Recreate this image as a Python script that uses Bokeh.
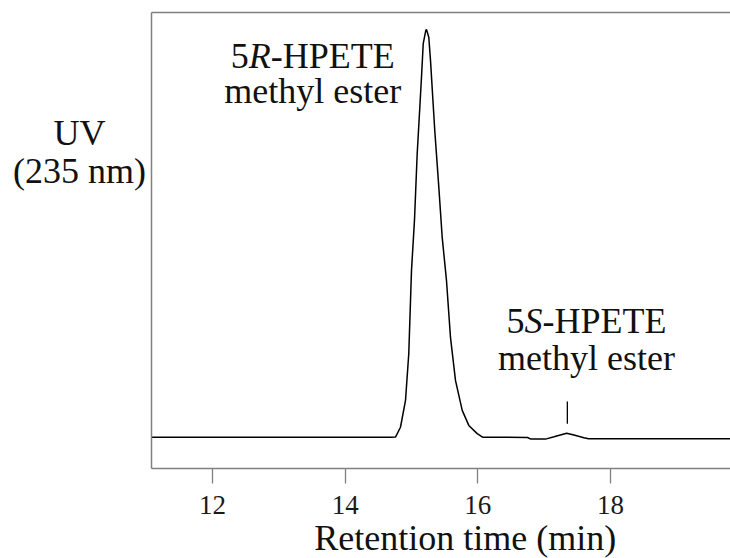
from bokeh.plotting import figure
from bokeh.models import Range1d, FixedTicker, Label, LinearAxis
from bokeh.embed import file_html
from bokeh.resources import INLINE

# ---- data ----
time_min = [11.08, 12.0, 13.0, 14.0, 14.70, 14.759, 14.834, 14.910, 14.959, 15.000,
            15.045, 15.086, 15.125, 15.151, 15.177, 15.216, 15.226, 15.261, 15.287,
            15.317, 15.351, 15.412, 15.463, 15.528, 15.588, 15.664, 15.765, 15.864,
            15.991, 16.071, 16.40, 16.75, 16.80, 17.02, 17.15, 17.34, 17.45, 17.60,
            17.67, 18.5, 19.81]
signal = [6.92, 6.92, 6.92, 6.92, 6.92, 6.95, 9.1, 15.0, 25.2, 43.4,
          54.4, 69.0, 79.0, 85.8, 93.1, 96.0, 96.2, 94.5, 89.4,
          82.2, 74.1, 61.7, 50.7, 41.2, 28.8, 19.3, 12.8, 9.5,
          7.7, 6.92, 6.92, 6.85, 6.5, 6.5, 7.0, 7.8, 7.4, 6.8,
          6.57, 6.57, 6.57]

tick_values = [12, 14, 16, 18]
x_limits = [11.08, 19.81]      # plotted time window (frame)
y_limits = [0, 100]            # frame bottom / top in signal units

minor_peak_time = 17.35
minor_marker_lo = 9.86
minor_marker_hi = 14.74

x_label = "Retention time (min)"
y_label_lines = ["UV", "(235 nm)"]
major_label = [("5", "normal"), ("R", "italic"), ("-HPETE", "normal")]
minor_label = [("5", "normal"), ("S", "italic"), ("-HPETE", "normal")]
second_line = "methyl ester"

SERIF = "Liberation Serif"
FRAME = "#808080"
W, H = 730, 558
FRAME_LEFT_PX = 151
FRAME_TOP_PX = 11.7
FRAME_BOTTOM_PX = 468.3
PX_PER_MIN = (W - FRAME_LEFT_PX) / (x_limits[1] - x_limits[0])
PX_PER_UNIT = (FRAME_BOTTOM_PX - FRAME_TOP_PX) / (y_limits[1] - y_limits[0])

# the whole canvas is the drawing area; the boxed frame sits inside it
x_view = (x_limits[0] - FRAME_LEFT_PX / PX_PER_MIN, x_limits[1])
y_view = (y_limits[0] - (H - FRAME_BOTTOM_PX) / PX_PER_UNIT,
          y_limits[1] + FRAME_TOP_PX / PX_PER_UNIT)

p = figure(width=W, height=H, output_backend="svg", toolbar_location=None,
           x_range=Range1d(*x_view), y_range=Range1d(*y_view),
           min_border_left=0, min_border_right=0, min_border_top=0,
           min_border_bottom=0)
p.outline_line_color = None
p.background_fill_color = "white"
p.border_fill_color = "white"
p.xgrid.visible = False
p.ygrid.visible = False

# bottom axis, fixed at the frame bottom and bounded to the frame
xa = p.xaxis[0]
xa.fixed_location = y_limits[0]
xa.bounds = tuple(x_limits)
xa.ticker = FixedTicker(ticks=tick_values)
xa.minor_tick_line_color = None
xa.major_tick_out = 15
xa.major_tick_in = 0
xa.major_tick_line_color = FRAME
xa.major_tick_line_width = 1.3
xa.axis_line_color = FRAME
xa.axis_line_width = 1.5
xa.major_label_text_font = SERIF
xa.major_label_text_font_size = "27px"
xa.major_label_text_color = "#1a1a1a"
xa.major_label_standoff = 12

# left frame side
ya = p.yaxis[0]
ya.fixed_location = x_limits[0]
ya.bounds = tuple(y_limits)
ya.ticker = FixedTicker(ticks=[])
ya.major_tick_line_color = None
ya.minor_tick_line_color = None
ya.major_label_text_font_size = "0px"
ya.axis_line_color = FRAME
ya.axis_line_width = 1.5

# top frame side
top = LinearAxis(fixed_location=y_limits[1], bounds=tuple(x_limits),
                 ticker=FixedTicker(ticks=[]), major_tick_line_color=None,
                 minor_tick_line_color=None, major_label_text_font_size="0px",
                 axis_line_color=FRAME, axis_line_width=1.5)
p.add_layout(top, "above")

# chromatogram trace
p.line(time_min, signal, line_color="black", line_width=1.5)
# marker tick above the minor peak
p.segment(x0=[minor_peak_time], y0=[minor_marker_lo], x1=[minor_peak_time],
          y1=[minor_marker_hi], line_color="black", line_width=1.3)

# widths (em) of Liberation Serif pieces, used to assemble mixed-style labels
EM = {"5": 0.5, "R": 0.611, "S": 0.5, "-HPETE": 3.444}
ANN = 36


def styled_label(pieces, xc, y, size):
    total = sum(EM[t] for t, _ in pieces) * size
    off = -total / 2
    for t, style in pieces:
        p.add_layout(Label(x=xc, y=y, x_offset=off, text=t, text_font=SERIF,
                           text_font_size=f"{size}px", text_font_style=style,
                           text_align="left", text_baseline="alphabetic",
                           text_color="#111111"))
        off += EM[t] * size


def plain_label(t, xc, y, size):
    p.add_layout(Label(x=xc, y=y, text=t, text_font=SERIF,
                       text_font_size=f"{size}px", text_align="center",
                       text_baseline="alphabetic", text_color="#111111"))


styled_label(major_label, 13.51, 90.3, ANN)
plain_label(second_line, 13.51, 82.85, ANN)
styled_label(minor_label, 17.64, 32.3, ANN)
plain_label(second_line, 17.64, 24.2, ANN)

plain_label(y_label_lines[0], 9.995, 73.65, 36)
plain_label(y_label_lines[1], 9.995, 65.3, 36)

# x-axis caption, centred under the frame
plain_label(x_label, 15.81, -15.26, 36)

open("out.html", "w").write(file_html(p, INLINE))
